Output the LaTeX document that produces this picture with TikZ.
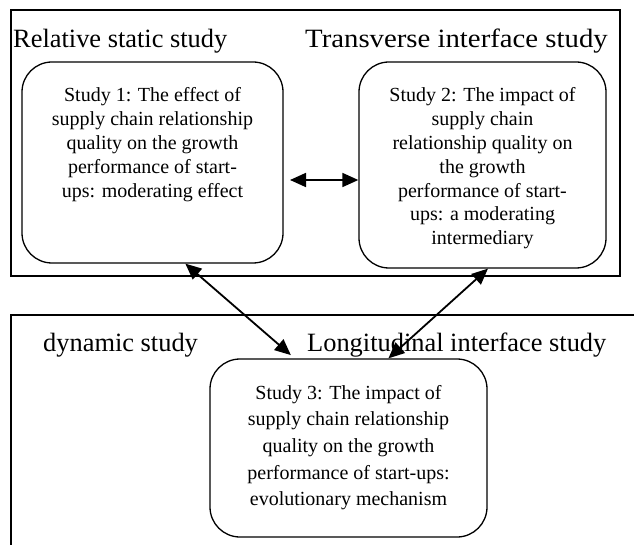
\documentclass[tikz,border=0pt]{standalone}
\usepackage{fontspec}
\setmainfont{Liberation Serif}
\usetikzlibrary{arrows.meta}
\tikzset{
  frame/.style={line width=1.5pt},
  studybox/.style={draw, line width=1.3pt, rounded corners=30pt, inner sep=0pt},
  heading/.style={anchor=base west, inner sep=0pt, font=\fontsize{26.4}{30}\selectfont},
  boxtext/.style={anchor=base, inner sep=0pt},
  link/.style={line width=1.8pt, {Triangle[length=16pt,width=14pt]}-{Triangle[length=16pt,width=14pt]}}
}
\newcommand{\txtA}[1]{{\fontsize{20}{23.8}\selectfont\begin{tabular}[t]{@{}c@{}}#1\end{tabular}}}
\newcommand{\txtB}[1]{{\fontsize{20}{26.7}\selectfont\begin{tabular}[t]{@{}c@{}}#1\end{tabular}}}
\begin{document}
\begin{tikzpicture}[x=1pt,y=-1pt]
\useasboundingbox (0,0) rectangle (634,545);
% outer frames
\draw[frame] (11,10) rectangle (620,276);
\draw[line width=1.3pt] (11,545) -- (11,315) -- (634,315);
% headings
\node[heading] (h1t) at (13,48) {Relative static study};
\node[heading] (h2t) at (305,48) {\scalebox{1.09}[1]{Transverse interface study}};
\node[heading] (h3t) at (43,351) {dynamic study};
\node[heading] (h4t) at (307,351) {Longitudinal interface study};
% study boxes
\node[studybox, minimum width=261pt, minimum height=201pt] (b1) at (152.5,162.5) {};
\node[studybox, minimum width=247pt, minimum height=206pt] (b2) at (482.5,165) {};
\node[studybox, minimum width=277pt, minimum height=178pt] (b3) at (348.5,448) {};
% texts
\node[boxtext] (t1) at (152.5,102) {\txtA{Study 1: The effect of\\supply chain relationship\\quality on the growth\\performance of start-\\ups: moderating effect}};
\node[boxtext] (t2) at (482.5,102) {\txtA{Study 2: The impact of\\supply chain\\relationship quality on\\the growth\\performance of start-\\ups: a moderating\\intermediary}};
\node[boxtext] (t3) at (348.5,399) {\txtB{Study 3: The impact of\\supply chain relationship\\quality on the growth\\performance of start-ups:\\evolutionary mechanism}};
% connectors
\coordinate (hl) at (290,180);
\draw[link] (hl) -- (hl -| b2.west);
\draw[link, shorten >=5pt] (b1.-72) -- (b3.121.9);
\draw[link] (b3.66.3) -- (b2.-87.5);
\end{tikzpicture}
\end{document}
